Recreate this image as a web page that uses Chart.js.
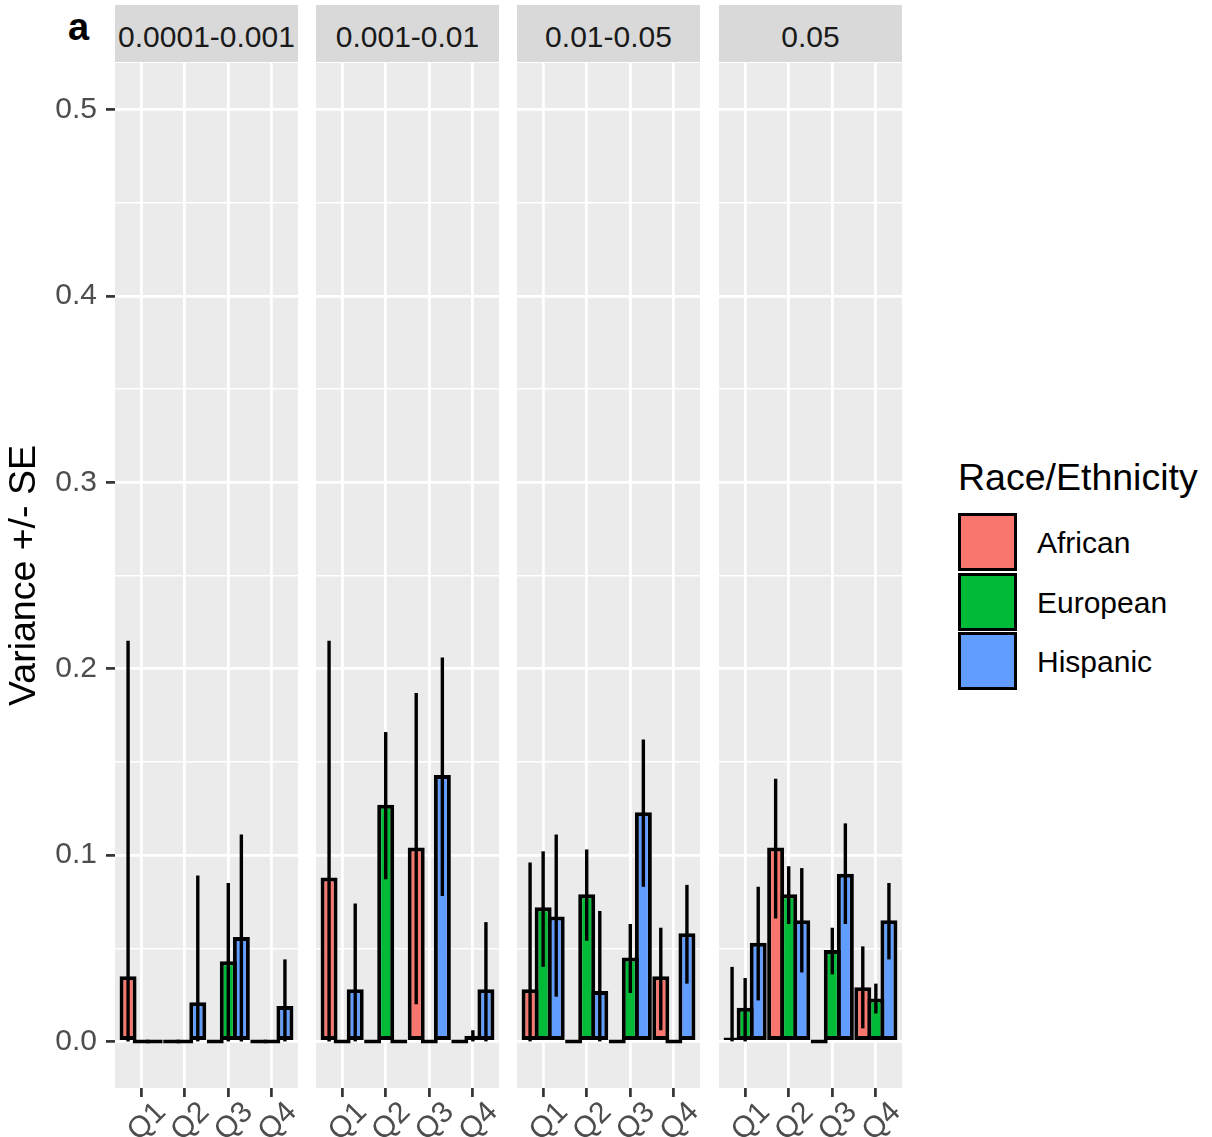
<!DOCTYPE html>
<html>
<head>
<meta charset="utf-8">
<script src="https://cdn.jsdelivr.net/npm/chart.js@4.4.1/dist/chart.umd.min.js"></script>
<style>
  body { margin: 0; background: #fff; font-family: "Liberation Sans", Arial, Helvetica, sans-serif; }
  #wrap { position: relative; width: 1212px; height: 1137px; overflow: hidden; }
  #wrap canvas { position: absolute; top: 63px; }
  .strip { position: absolute; top: 5px; width: 183px; height: 57px; background: #d9d9d9; color: #1a1a1a;
           font-size: 30px; line-height: 63px; text-align: center; white-space: nowrap; }
  .tag { position: absolute; left: 68px; top: 6px; font-size: 38px; font-weight: bold; color: #000; }
  .legTitle { position: absolute; left: 958px; top: 456px; font-size: 37.5px; color: #000; white-space: nowrap; }
  .key { position: absolute; left: 958px; width: 53px; height: 52px; border: 3px solid #000; }
  .keyLab { position: absolute; left: 1037px; font-size: 30px; color: #000; line-height: 60px; }
</style>
</head>
<body>
<div id="wrap"></div>
<script>
const panels = ["0.0001-0.001", "0.001-0.01", "0.01-0.05", "0.05"];
const quartiles = ["Q1", "Q2", "Q3", "Q4"];
const groups = ["African", "European", "Hispanic"];

// variance per panel, Q1..Q4
const african  = [[0.035, 0, 0, 0], [0.088, 0, 0.104, 0], [0.028, 0, 0, 0.035], [0.001, 0.104, 0, 0.029]];
const european = [[0, 0, 0.043, 0], [0, 0.127, 0, 0.003], [0.072, 0.079, 0.045, 0], [0.018, 0.079, 0.049, 0.023]];
const hispanic = [[0, 0.021, 0.056, 0.019], [0.028, 0, 0.143, 0.028], [0.067, 0.027, 0.123, 0.058], [0.053, 0.065, 0.090, 0.065]];

// error bar ends (-SE / +SE), null = no bar
const africanLo  = [[0, null, null, null], [0, null, 0.020, null], [0, null, null, 0.006], [0, 0.066, null, 0.007]];
const africanHi  = [[0.215, null, null, null], [0.215, null, 0.187, null], [0.096, null, null, 0.061], [0.040, 0.141, null, 0.051]];
const europeanLo = [[null, null, 0, null], [null, 0.087, null, 0], [0.040, 0.054, 0.026, null], [0, 0.063, 0.036, 0.015]];
const europeanHi = [[null, null, 0.085, null], [null, 0.166, null, 0.006], [0.102, 0.103, 0.063, null], [0.034, 0.094, 0.061, 0.031]];
const hispanicLo = [[null, 0, 0, 0], [0, null, 0.078, 0], [0.024, 0, 0.083, 0.031], [0.022, 0.037, 0.063, 0.044]];
const hispanicHi = [[null, 0.089, 0.111, 0.044], [0.074, null, 0.206, 0.064], [0.111, 0.070, 0.162, 0.084], [0.083, 0.093, 0.117, 0.085]];

const yBreaks = [0, 0.05, 0.1, 0.15, 0.2, 0.25, 0.3, 0.35, 0.4, 0.45, 0.5];
const yLabels = ["0.0", "", "0.1", "", "0.2", "", "0.3", "", "0.4", "", "0.5"];

let series = [african, european, hispanic];
let lows = [africanLo, europeanLo, hispanicLo];
let highs = [africanHi, europeanHi, hispanicHi];
let colors = ["#F8766D", "#00BA38", "#619CFF"];

let panelLeft = [115, 316, 517, 719];
let panelW = 183;

Chart.defaults.font.family = '"Liberation Sans", Arial, Helvetica, sans-serif';

let wrap = document.getElementById("wrap");

let panelBg = {
    id: 'panelBg',
    beforeDraw(chart) {
        let a = chart.chartArea, c = chart.ctx;
        c.save();
        c.fillStyle = '#EBEBEB';
        c.fillRect(a.left, a.top, a.right - a.left, a.bottom - a.top);
        c.restore();
    }
};

let errorBars = {
    id: 'errorBars',
    afterDatasetsDraw(chart) {
        let c = chart.ctx, y = chart.scales.y;
        c.save();
        c.strokeStyle = '#000';
        c.lineWidth = 3.4;
        chart.data.datasets.forEach((ds, i) => {
            chart.getDatasetMeta(i).data.forEach((bar, j) => {
                if (ds.hi[j] == null) return;
                c.beginPath();
                c.moveTo(bar.x, y.getPixelForValue(ds.lo[j]));
                c.lineTo(bar.x, y.getPixelForValue(ds.hi[j]));
                c.stroke();
            });
        });
        c.restore();
    }
};

function isMajor(ctx) {
    return ctx.tick && yLabels[yBreaks.indexOf(ctx.tick.value)] !== "";
}

function makePanel(p) {
    let first = p === 0;
    let strip = document.createElement('div');
    strip.className = 'strip';
    strip.style.left = panelLeft[p] + 'px';
    strip.textContent = panels[p];
    wrap.appendChild(strip);

    let cv = document.createElement('canvas');
    cv.width = first ? panelLeft[0] + panelW : panelW;
    cv.height = 1137 - 63;
    cv.style.left = (first ? 0 : panelLeft[p]) + 'px';
    wrap.appendChild(cv);

    new Chart(cv.getContext('2d'), {
        type: 'bar',
        data: {
            datasets: groups.map((g, k) => ({
                label: g,
                data: series[k][p].map((v, i) => ({ x: i, y: v })),
                lo: lows[k][p],
                hi: highs[k][p],
                backgroundColor: colors[k],
                borderColor: '#000',
                borderWidth: 4,
                borderSkipped: false,
                minBarLength: 4,
                categoryPercentage: 0.9,
                barPercentage: 1.3
            }))
        },
        options: {
            responsive: false,
            animation: false,
            layout: { padding: 0, autoPadding: false },
            plugins: { legend: { display: false }, tooltip: { enabled: false } },
            scales: {
                x: {
                    type: 'linear', min: -0.6, max: 3.6, offset: false,
                    afterBuildTicks: s => { s.ticks = quartiles.map((q, i) => ({ value: i })); },
                    afterFit: s => { s.height = 49; s.paddingLeft = 0; s.paddingRight = 0; },
                    grid: { offset: false, color: '#fff', lineWidth: 2.8, tickColor: '#333', tickLength: 9, tickWidth: 2.7 },
                    border: { display: false },
                    ticks: {
                        autoSkip: false, callback: (v, i) => quartiles[i],
                        minRotation: 45, maxRotation: 45, labelOffset: 20, padding: 0,
                        color: '#4D4D4D', font: { size: 30, lineHeight: 1 }
                    }
                },
                y: {
                    min: -0.025, max: 0.525,
                    afterBuildTicks: s => { s.ticks = yBreaks.map(v => ({ value: v })); },
                    afterFit: s => { s.width = first ? panelLeft[0] : 0; s.paddingTop = 0; s.paddingBottom = 0; },
                    grid: {
                        color: '#fff',
                        lineWidth: c => isMajor(c) ? 2.8 : 1.4,
                        tickColor: c => isMajor(c) ? '#333' : 'rgba(0,0,0,0)',
                        tickLength: 9, tickWidth: 2.7, drawTicks: first
                    },
                    border: { display: false },
                    ticks: {
                        display: first, autoSkip: false, padding: 9,
                        color: '#4D4D4D', font: { size: 30 },
                        callback: (v, i) => yLabels[i]
                    },
                    title: {
                        display: first, text: 'Variance +/- SE', color: '#000',
                        font: { size: 37.5 }, padding: { top: 2, bottom: 0 }
                    }
                }
            }
        },
        plugins: [panelBg, errorBars]
    });
}

panels.forEach((name, p) => makePanel(p));

// letter tag and legend
let tag = document.createElement('div');
tag.className = 'tag';
tag.textContent = 'a';
wrap.appendChild(tag);

let legTitle = document.createElement('div');
legTitle.className = 'legTitle';
legTitle.textContent = 'Race/Ethnicity';
wrap.appendChild(legTitle);

groups.forEach((g, k) => {
    let top = 513 + k * 59.5;
    let key = document.createElement('div');
    key.className = 'key';
    key.style.top = top + 'px';
    key.style.background = colors[k];
    wrap.appendChild(key);
    let lab = document.createElement('div');
    lab.className = 'keyLab';
    lab.style.top = top + 'px';
    lab.textContent = g;
    wrap.appendChild(lab);
});
</script>
</body>
</html>
